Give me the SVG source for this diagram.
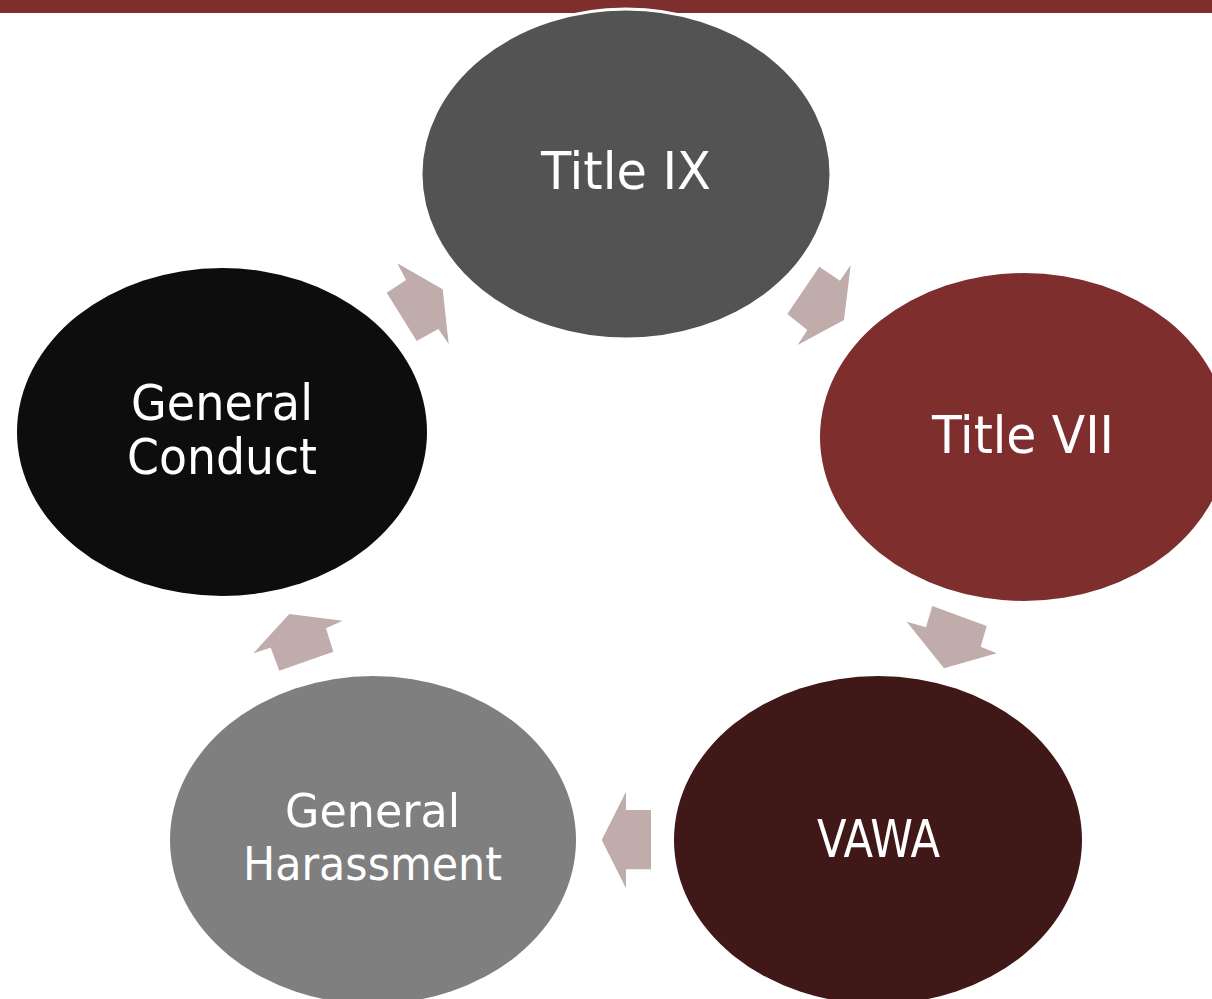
<svg xmlns="http://www.w3.org/2000/svg" width="1212" height="999" viewBox="0 0 1212 999">
<style>
.lbl{font-family:'DejaVu Sans Condensed','DejaVu Sans',sans-serif;font-stretch:condensed;fill:#ffffff;text-anchor:middle}
.big{font-size:52px}
.mid{font-size:50px}
.small{font-size:47px}
.arr{fill:#c1acac}
</style>
<rect x="0" y="0" width="1212" height="999" fill="#ffffff"/>
<rect x="0" y="0" width="1212" height="13" fill="#7e2f2d"/>
<g id="connectors">
<polygon class="arr" points="386.7,292.7 406,280 397.3,263.3 442.7,289.3 448.7,344 438.3,329 416.7,341"/>
<polygon class="arr" points="819.3,266.7 840,280.7 850.7,265 844,320 797.7,345 807.3,330 787.3,314"/>
<polygon class="arr" points="932.3,606 986.7,626 980.7,646.7 996.7,653.3 944,668.3 906.7,621.7 926,627.3"/>
<polygon class="arr" points="651,810 651,869.3 626,869.3 626,888.3 601.7,840 626,791.7 626,810"/>
<polygon class="arr" points="289.3,614 342.7,620.7 326,628.3 333.3,651.7 279.3,670.7 270.7,647.7 253.3,653.3"/>
</g>
<g id="title-ix">
<ellipse cx="626" cy="174" rx="205" ry="165" fill="#535353" stroke="#ffffff" stroke-width="3"/>
<text class="lbl big" x="626" y="189" textLength="170" lengthAdjust="spacingAndGlyphs">Title IX</text>
</g>
<g id="title-vii">
<ellipse cx="1024" cy="437" rx="204" ry="164" fill="#7e2f2d"/>
<text class="lbl big" x="1023" y="453" textLength="182" lengthAdjust="spacingAndGlyphs">Title VII</text>
</g>
<g id="vawa">
<ellipse cx="878" cy="840" rx="204" ry="164" fill="#3f1817"/>
<text class="lbl big" x="878.5" y="857" textLength="123" lengthAdjust="spacingAndGlyphs">VAWA</text>
</g>
<g id="general-harassment">
<ellipse cx="373" cy="840" rx="203" ry="164" fill="#7f7f7f"/>
<text class="lbl small" x="372.5" y="827" textLength="175" lengthAdjust="spacingAndGlyphs">General</text>
<text class="lbl small" x="372.5" y="880" textLength="259" lengthAdjust="spacingAndGlyphs">Harassment</text>
</g>
<g id="general-conduct">
<ellipse cx="222" cy="432" rx="205" ry="164" fill="#0d0d0d"/>
<text class="lbl mid" x="222" y="420" textLength="182" lengthAdjust="spacingAndGlyphs">General</text>
<text class="lbl mid" x="222" y="474" textLength="190" lengthAdjust="spacingAndGlyphs">Conduct</text>
</g>
</svg>
